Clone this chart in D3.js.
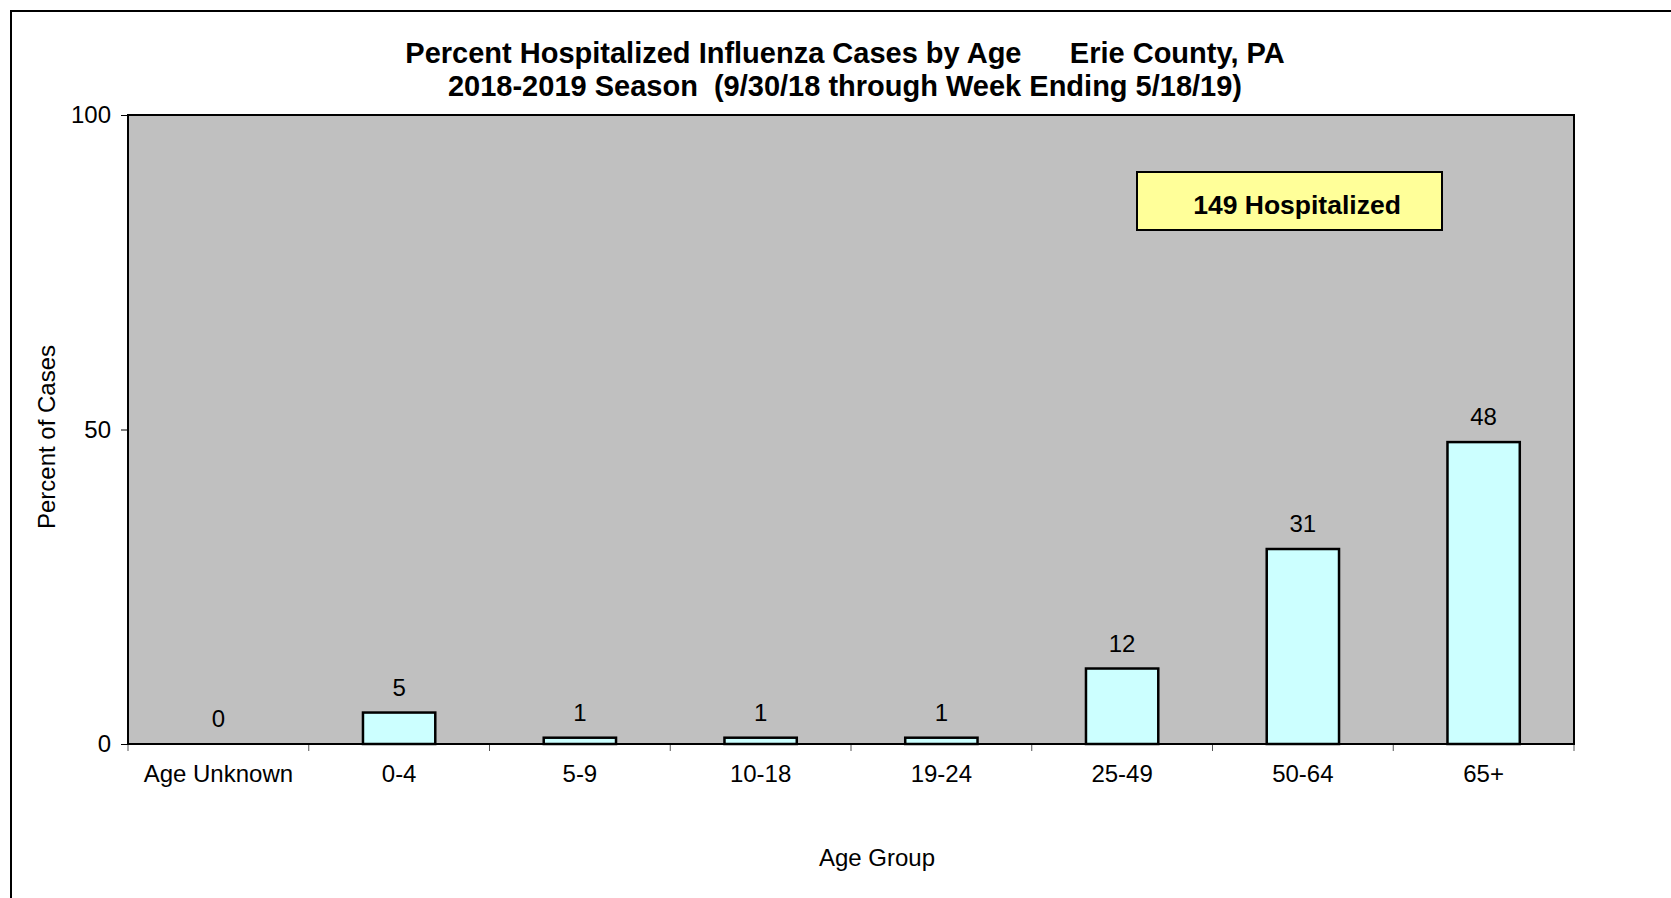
<!DOCTYPE html>
<html>
<head>
<meta charset="utf-8">
<script src="https://cdn.jsdelivr.net/npm/d3@7"></script>
<style>
  html, body { margin: 0; padding: 0; background: #fff; }
  svg { display: block; font-family: "Liberation Sans", Arial, sans-serif; }
</style>
</head>
<body>
<svg id="chart"></svg>
<script>
// data
const ageGroups = ["Age Unknown", "0-4", "5-9", "10-18", "19-24", "25-49", "50-64", "65+"];
const percentHosp = [0, 5, 1, 1, 1, 12, 31, 48];
const yTicks = [0, 50, 100];
const titleLines = ["Percent Hospitalized Influenza Cases by Age      Erie County, PA",
                    "2018-2019 Season  (9/30/18 through Week Ending 5/18/19)"];
const totalLabel = "149 Hospitalized";

const width = 1671;
const height = 898;
const margin = { top: 115, right: 97, bottom: 154, left: 128 };
const plotW = width - margin.left - margin.right;
const plotH = height - margin.top - margin.bottom;

const svg = d3.select("#chart")
    .attr("width", width)
    .attr("height", height);

// outer chart border (runs off the right and bottom edges)
svg.append("rect")
    .attr("x", 11).attr("y", 11)
    .attr("width", width + 20).attr("height", height + 20)
    .attr("fill", "none")
    .attr("stroke", "#000")
    .attr("stroke-width", 2);

// title
svg.append("text")
    .attr("x", 845)
    .attr("y", 63)
    .attr("text-anchor", "middle")
    .style("font-weight", "bold")
    .style("font-size", "29px")
    .style("white-space", "pre")
    .selectAll("tspan")
    .data(titleLines)
    .enter()
    .append("tspan")
    .attr("x", 845)
    .attr("dy", (d, i) => i === 0 ? 0 : 33)
    .text(d => d);

const xScale = d3.scaleBand()
    .domain(ageGroups)
    .range([0, plotW])
    .padding(0);

const yScale = d3.scaleLinear()
    .domain([0, 100])
    .range([plotH, 0]);

const g = svg.append("g")
    .attr("transform", `translate(${margin.left},${margin.top})`);

// plot background
g.append("rect")
    .attr("width", plotW)
    .attr("height", plotH)
    .attr("fill", "#c0c0c0");

// y axis
const yAxis = g.append("g")
    .call(d3.axisLeft(yScale).tickValues(yTicks).tickSize(7).tickSizeOuter(0).tickPadding(10));
yAxis.select(".domain").remove();
yAxis.selectAll("line").attr("stroke", "#000").attr("stroke-width", 1);
yAxis.selectAll("text")
    .style("font-size", "24px")
    .style("font-family", "Liberation Sans, Arial, sans-serif")
    .attr("fill", "#000");

// x axis ticks at the category boundaries
const boundaries = ageGroups.map(d => xScale(d)).concat([xScale.range()[1]]);
g.selectAll(".xtick")
    .data(boundaries)
    .enter()
    .append("line")
    .attr("class", "xtick")
    .attr("x1", d => d).attr("x2", d => d)
    .attr("y1", plotH).attr("y2", plotH + 7)
    .attr("stroke", "#555")
    .attr("stroke-width", 1);

g.selectAll(".xlabel")
    .data(ageGroups)
    .enter()
    .append("text")
    .attr("class", "xlabel")
    .attr("x", d => xScale(d) + xScale.bandwidth() / 2)
    .attr("y", plotH + 38)
    .attr("text-anchor", "middle")
    .style("font-size", "24px")
    .text(d => d);

// bars
const barW = xScale.bandwidth() * 0.4;
g.selectAll(".bar")
    .data(percentHosp)
    .enter()
    .append("rect")
    .attr("class", "bar")
    .attr("x", (d, i) => xScale(ageGroups[i]) + (xScale.bandwidth() - barW) / 2)
    .attr("y", d => yScale(d))
    .attr("width", barW)
    .attr("height", d => plotH - yScale(d))
    .attr("fill", d => d > 0 ? "#ccffff" : "none")
    .attr("stroke", d => d > 0 ? "#000" : "none")
    .attr("stroke-width", 2.5);

// value labels
g.selectAll(".val")
    .data(percentHosp)
    .enter()
    .append("text")
    .attr("class", "val")
    .attr("x", (d, i) => xScale(ageGroups[i]) + xScale.bandwidth() / 2)
    .attr("y", d => yScale(d) - 17)
    .attr("text-anchor", "middle")
    .style("font-size", "24px")
    .text(d => d);

// plot frame
g.append("rect")
    .attr("width", plotW)
    .attr("height", plotH)
    .attr("fill", "none")
    .attr("stroke", "#000")
    .attr("stroke-width", 2);

// total hospitalized box
const box = g.append("g").attr("transform", `translate(${1137 - margin.left},${172 - margin.top})`);
box.append("rect")
    .attr("width", 305)
    .attr("height", 58)
    .attr("fill", "#ffff99")
    .attr("stroke", "#000")
    .attr("stroke-width", 2);
box.append("text")
    .attr("x", 160)
    .attr("y", 42)
    .attr("text-anchor", "middle")
    .style("font-weight", "bold")
    .style("font-size", "26.5px")
    .text(totalLabel);

// axis titles
svg.append("text")
    .attr("transform", "translate(55,437) rotate(-90)")
    .attr("text-anchor", "middle")
    .style("font-size", "24px")
    .text("Percent of Cases");

svg.append("text")
    .attr("x", 877)
    .attr("y", 866)
    .attr("text-anchor", "middle")
    .style("font-size", "24px")
    .text("Age Group");
</script>
</body>
</html>
